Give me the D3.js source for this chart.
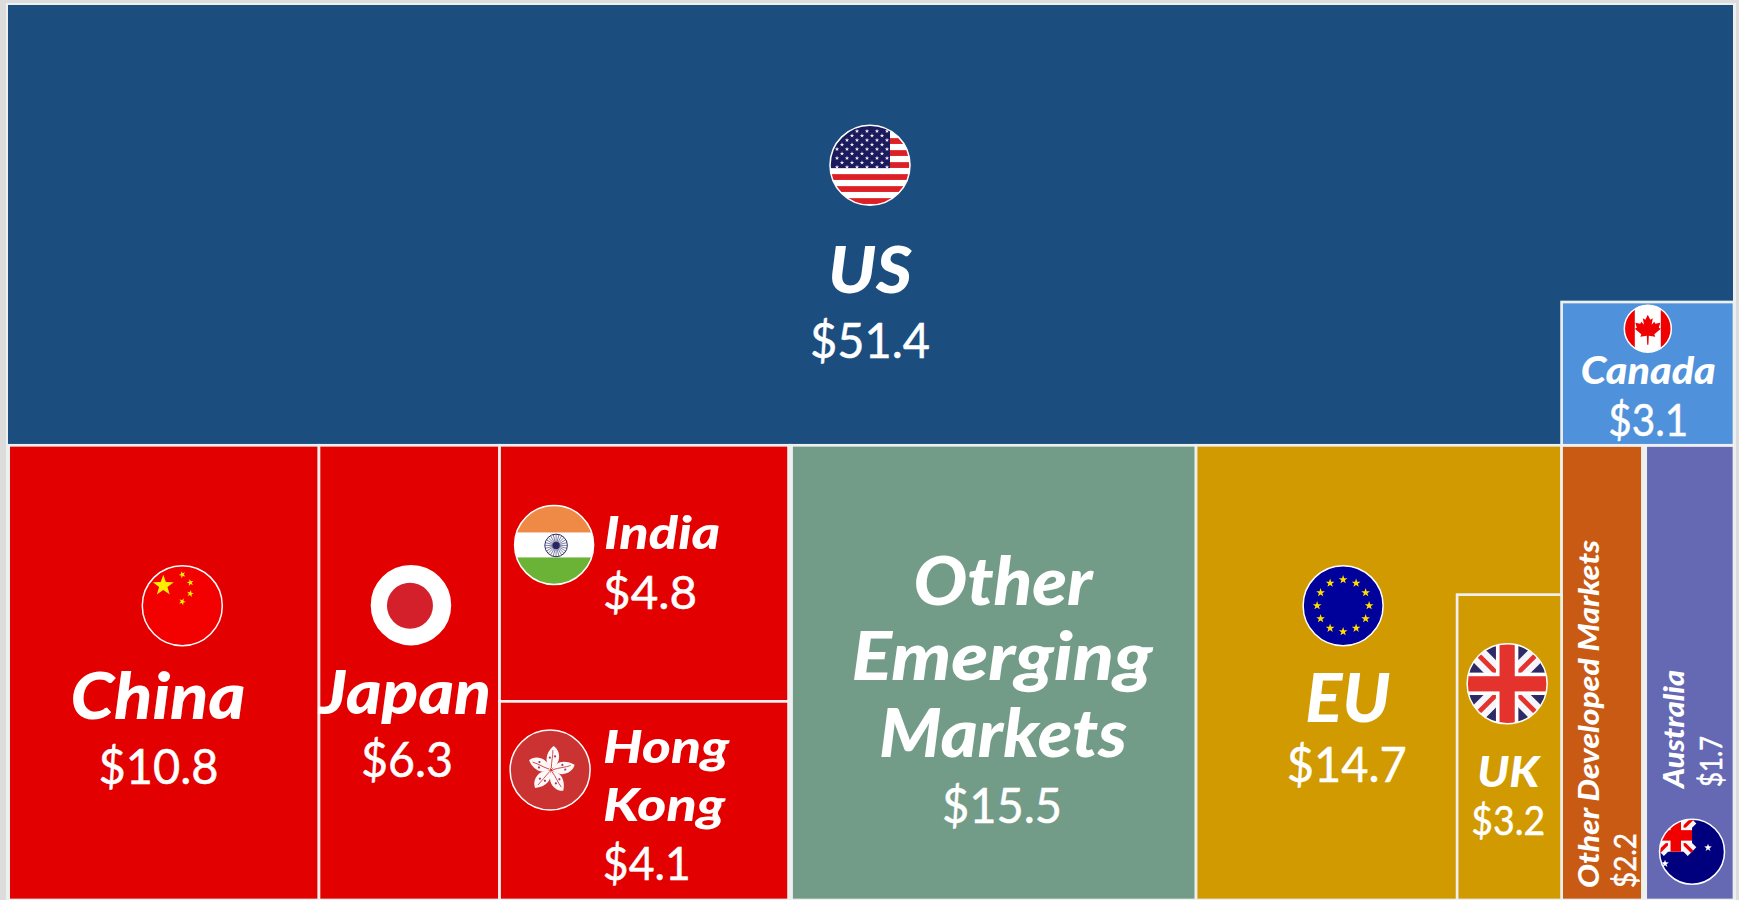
<!DOCTYPE html>
<html><head><meta charset="utf-8">
<style>html,body{margin:0;padding:0;background:#dcdcdc;overflow:hidden}svg{display:block}</style>
<script src="https://cdnjs.cloudflare.com/ajax/libs/d3/7.8.5/d3.min.js"></script>
</head><body><svg id="c" width="1739" height="900"></svg>
<script>
// ---- data ----
const regions = ["US","Canada","China","Japan","India","Hong Kong","Other Emerging Markets","EU","UK","Other Developed Markets","Australia"];
const values  = [51.4,3.1,10.8,6.3,4.8,4.1,15.5,14.7,3.2,2.2,1.7];
const regionColors = ["#1b4d7e","#4f91da","#e30000","#e30000","#e30000","#e30000","#739c88","#d09a00","#d09a00","#c95a14","#6568b3"];
// tile tree: the drawn tiles are not strictly value-proportional, so relative tile areas are read off the picture
const tileIds     = ["World","Top","Bottom","US","US body","US side","US cap","Canada","China","Japan","North Asia","India","Hong Kong","Other Emerging Markets","EU","EU body","EU side","EU cap","UK","Other Developed Markets","Australia"];
const tileParents = ["","World","World","Top","US","US","US side","US side","Bottom","Bottom","Bottom","North Asia","North Asia","Bottom","Bottom","EU","EU","EU side","EU side","Bottom","Bottom"];
const tileAreas   = [0,0,0,0,684.0,0,51.2,24.7,141.4,82.1,0,74.4,57.7,184.6,0,118.7,0,15.6,31.9,37.5,40.9];
const sliceNodes  = ["World","US side","North Asia","EU side"];

// ---- layout / style ----
const W=1739,H=900, PAGE="#dcdcdc", LINE="#eef0f0";
const svg=d3.select("#c");
const rows=tileIds.map((id,i)=>({id,parent:tileParents[i]||null,area:tileAreas[i]}));
const root=d3.stratify().id(d=>d.id).parentId(d=>d.parent)(rows).sum(d=>d.area);
d3.treemap().size([1726,895]).round(false)
  .tile((n,x0,y0,x1,y1)=>(sliceNodes.includes(n.id)?d3.treemapSlice:d3.treemapDice)(n,x0,y0,x1,y1))(root);
const X=d3.scaleLinear().domain([0,1726]).range([8,1734]);
const Y=d3.scaleLinear().domain([0,895]).range([5,900]);
const tiles=new Map(root.descendants().map(n=>[n.id,n]));
const box=id=>{const n=tiles.get(id);return {x0:X(n.x0),x1:X(n.x1),y0:Y(n.y0),y1:Y(n.y1),cx:(X(n.x0)+X(n.x1))/2,cy:(Y(n.y0)+Y(n.y1))/2};};
const colorOf=d3.scaleOrdinal().domain(regions).range(regionColors);

svg.append("rect").attr("width",W).attr("height",H).attr("fill",PAGE);
svg.append("rect").attr("x",6).attr("y",3).attr("width",1730).attr("height",897).attr("fill",LINE);

const cells=svg.append("g").selectAll("rect").data(regions).join("rect")
  .attr("x",d=>box(d).x0).attr("y",d=>box(d).y0)
  .attr("width",d=>box(d).x1-box(d).x0).attr("height",d=>box(d).y1-box(d).y0)
  .attr("fill",d=>colorOf(d))
  .attr("stroke",d=>d==="US"?"none":LINE)
  .attr("stroke-width",2.7);
cells.filter(d=>d==="Canada"||d==="UK").raise();
const heavy=[["North Asia",5.7],["Other Developed Markets",6]];
svg.append("g").selectAll("line").data(heavy).join("line")
  .attr("x1",d=>box(d[0]).x1).attr("x2",d=>box(d[0]).x1)
  .attr("y1",d=>box(d[0]).y0).attr("y2",d=>box(d[0]).y1)
  .attr("stroke",LINE).attr("stroke-width",d=>d[1]);
const b0=box("Bottom");
svg.append("line").attr("x1",b0.x0).attr("x2",b0.x0).attr("y1",b0.y0).attr("y2",b0.y1).attr("stroke",LINE).attr("stroke-width",4);
svg.append("rect").attr("x",1733).attr("y",3).attr("width",3).attr("height",897).attr("fill",LINE);

const defs=svg.append("defs");
const starPts=(r,ri=r*0.4,rot=0)=>d3.range(10).map(i=>{const a=-Math.PI/2+rot+i*Math.PI/5,q=i%2?ri:r;return [q*Math.cos(a),q*Math.sin(a)].map(v=>+v.toFixed(2)).join(",");}).join(" ");
const star=(g,x,y,r,fill,rot=0)=>g.append("polygon").attr("points",starPts(r,r*0.4,rot)).attr("transform",`translate(${x},${y})`).attr("fill",fill);
const R=(g,x,y,w,h,f)=>g.append("rect").attr("x",x).attr("y",y).attr("width",w).attr("height",h).attr("fill",f);

function unionJack(g,s,navy,rd,cx=0,cy=0,hw=s,hh=s){
  R(g,cx-hw,cy-hh,hw*2,hh*2,navy);
  const dg=(w,c)=>{[[1,1],[1,-1]].forEach(([a,b])=>g.append("line").attr("x1",cx-a*hw).attr("y1",cy-b*hh).attr("x2",cx+a*hw).attr("y2",cy+b*hh).attr("stroke",c).attr("stroke-width",w));};
  dg(s*0.44,"#f6f6fa"); dg(s*0.12,rd);
  R(g,cx-hw,cy-s*0.28,hw*2,s*0.56,"#fff"); R(g,cx-s*0.28,cy-hh,s*0.56,hh*2,"#fff");
  R(g,cx-hw,cy-s*0.19,hw*2,s*0.38,rd); R(g,cx-s*0.19,cy-hh,s*0.38,hh*2,rd);
}
const flags={
  US(g,r){R(g,-r,-r,2*r,2*r,"#fff");
    d3.range(-39,40,12).forEach(y=>R(g,-r,y,2*r,5.8,"#dc2026"));
    R(g,-r,-r,r+20,r+3,"#1a1a5c");
    d3.range(9).forEach(row=>{const n=row%2?5:6,off=row%2?-28:-33;d3.range(n).forEach(i=>star(g,off+i*10,-34+row*4.5,2.3,"#f0f0f8"));});},
  Canada(g,r){R(g,-r,-r,2*r,2*r,"#fff");R(g,-r,-r,r-13,2*r,"#f00000");R(g,13,-r,r,2*r,"#f00000");
    g.append("polygon").attr("fill","#f00000").attr("points","0,-14 -2.5,-9 -5,-10.3 -3.8,-4 -6.5,-7 -7.5,-5 -12.5,-6 -11,-1 -13,0 -6.5,5.5 -7.5,8 -1,7 -0.6,16 0.6,16 1,7 7.5,8 6.5,5.5 13,0 11,-1 12.5,-6 7.5,-5 6.5,-7 3.8,-4 5,-10.3 2.5,-9");},
  China(g,r){R(g,-r,-r,2*r,2*r,"#f30000");star(g,-19,-20,11,"#ffee00");
    [[0,-31,-.4],[8,-23,-.2],[8,-12,.2],[0,-4,.4]].forEach(([x,y,a])=>star(g,x,y,3.6,"#ffee00",a));},
  Japan(g,r){R(g,-r,-r,2*r,2*r,"#fff");g.append("circle").attr("cx",-1).attr("cy",.5).attr("r",23).attr("fill","#d4202a");},
  India(g,r){R(g,-r,-r,2*r,2*r,"#fff");R(g,-r,-r,2*r,r-12.5,"#ee8a45");R(g,-r,12.5,2*r,r,"#6bb336");
    g.append("circle").attr("cx",2).attr("cy",.5).attr("r",11.3).attr("fill","none").attr("stroke","#2a2a66").attr("stroke-width",1);
    g.append("circle").attr("cx",2).attr("cy",.5).attr("r",3.6).attr("fill","#2a2a66");
    d3.range(24).forEach(i=>{const a=i*Math.PI/12;g.append("line").attr("x1",2).attr("y1",.5).attr("x2",2+11*Math.cos(a)).attr("y2",.5+11*Math.sin(a)).attr("stroke","#2a2a66").attr("stroke-width",.6);});},
  "Hong Kong"(g,r){R(g,-r,-r,2*r,2*r,"#cb3232");
    d3.range(5).forEach(i=>{const p=g.append("g").attr("transform",`translate(1,0) rotate(${i*72+8})`);
      p.append("path").attr("d","M0,-1 C-8,-6 -8,-16 -1,-24 C4,-22 7,-16 6,-10 C5,-6 3,-3 0,-1Z").attr("fill","#fff8f8");
      p.append("path").attr("d","M0,-2 C-1,-8 0,-14 -1,-20").attr("fill","none").attr("stroke","#cb3232").attr("stroke-width",.8);
      p.append("circle").attr("cx",-3).attr("cy",-12).attr("r",1.1).attr("fill","#9a3a6a");
      p.append("circle").attr("cx",2).attr("cy",-14).attr("r",1.1).attr("fill","#9a3a6a");});},
  EU(g,r){R(g,-r,-r,2*r,2*r,"#00009b");d3.range(12).forEach(i=>{const a=i*Math.PI/6;star(g,26*Math.sin(a),-26*Math.cos(a),4.6,"#ffdd00");});},
  UK(g,r){unionJack(g,r,"#2e2a66","#e4322c");},
  Australia(g,r){R(g,-r,-r,2*r,2*r,"#00007f");unionJack(g,r*0.85,"#00007f","#f00000",-r/2,-r/2,r/2,r/2);
    star(g,16,-4,4,"#fff");star(g,-27,12,4,"#fff");}
};
// flag placement and labels, offset from each tile's centre; last number = text width measured on the picture
const flagAt={US:[-1,-60,40],Canada:[0,-45,23.5],China:[18.8,-67,40],Japan:[1.7,-67.5,39.5],India:[-90.7,-28.4,39.5],"Hong Kong":[-94.7,-30.7,40],EU:[-35.7,-67,40],UK:[-2.2,-63.5,40],Australia:[3,179,32.5]};
const textAt={
  US:[["US",-1,68,64,"n","middle",84],["$51.4",-1,132.5,48,"v","middle",120]],
  Canada:[["Canada",0.5,10.3,38,"n","middle",135],["$3.1",0.5,62.3,45,"v","middle",80]],
  China:[["China",-5.5,46.3,64,"n","middle",175],["$10.8",-5,111.3,49,"v","middle",120]],
  Japan:[["Japan",-4.2,41.3,60,"n","middle",172],["$6.3",-2.2,104.3,49,"v","middle",92]],
  India:[["India",-40.7,-24.4,46,"n","start",116],["$4.8",-41.7,35.6,47,"v","start",94]],
  "Hong Kong":[["Hong",-41.7,-37.7,46,"n","start",126],["Kong",-41.7,20.3,46,"n","start",122],["$4.1",-42,79.3,47,"v","start",88]],
  "Other Emerging Markets":[["Other",10,-67.7,66,"n","middle",179],["Emerging",9,7.3,66,"n","middle",301],["Markets",10,84.3,66,"n","middle",248],["$15.5",9,150.3,49,"v","middle",120]],
  EU:[["EU",-31,49.3,66,"n","middle",85],["$14.7",-32,109.3,49,"v","middle",120]],
  UK:[["UK",-1,39.5,42,"n","middle",62],["$3.2",-1,87.5,41,"v","middle",74]]
};
const rotAt={
  "Other Developed Markets":[["Other Developed Markets",1599,888,29,"n",348],["$2.2",1636,888,31,"v",55]],
  Australia:[["Australia",1684,788,29,"n",118],["$1.7",1722,787,30,"v",51]]
};
const FONT="Lato, 'Noto Sans', sans-serif";
const style=(t,size,kind,len)=>t.attr("font-family",FONT).attr("font-size",size).attr("fill","#fff")
  .attr("font-weight",kind==="n"?900:400).attr("font-style",kind==="n"?"italic":"normal")
  .attr("stroke",kind==="n"?"none":"#fff").attr("stroke-width",kind==="n"?0:0.5)
  .attr("textLength",len).attr("lengthAdjust","spacingAndGlyphs");

Object.entries(flagAt).forEach(([name,[dx,dy,r]],i)=>{
  const b=box(name);
  const cid="clip"+i;
  defs.append("clipPath").attr("id",cid).append("circle").attr("r",r);
  const g=svg.append("g").attr("transform",`translate(${b.cx+dx},${b.cy+dy})`);
  const inner=g.append("g").attr("clip-path",`url(#${cid})`);
  flags[name](inner,r);
  g.append("circle").attr("r",r).attr("fill","none").attr("stroke","#fff").attr("stroke-width",1.5);
});
Object.entries(textAt).forEach(([name,list])=>{
  const b=box(name);
  list.forEach(([s,dx,dy,size,kind,anchor,len])=>{
    style(svg.append("text").attr("x",b.cx+dx).attr("y",b.cy+dy).attr("text-anchor",anchor).text(s),size,kind,len);
  });
});
Object.entries(rotAt).forEach(([name,list])=>{
  list.forEach(([s,x,y,size,kind,len])=>{
    style(svg.append("text").attr("transform",`translate(${x},${y}) rotate(-90)`).text(s),size,kind,len);
  });
});
</script></body></html>
